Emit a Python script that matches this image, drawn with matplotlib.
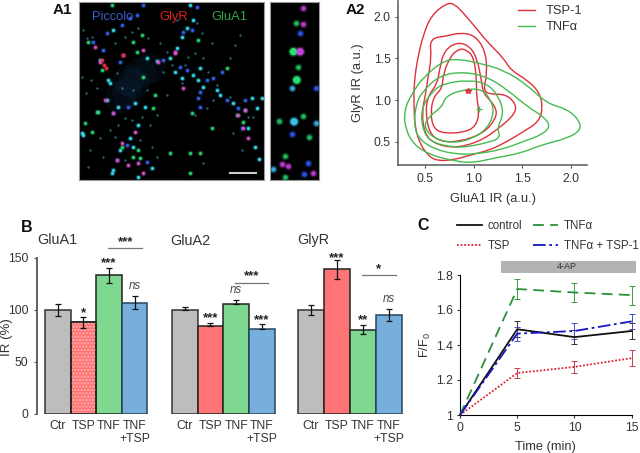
import matplotlib
matplotlib.use('Agg')
import matplotlib.pyplot as plt
from matplotlib.patches import Rectangle, PathPatch
from matplotlib.path import Path

plt.rcParams['font.family'] = ['Liberation Sans', 'DejaVu Sans']
plt.rcParams['mathtext.default'] = 'regular'

W, H = 640, 453

# A1 spots, in image coordinates
cyan_x = [570, 578, 560, 545, 530, 510, 470, 440, 340, 300, 325, 330, 600, 580, 595, 610, 545, 525, 650, 660, 700, 755, 785, 770, 745, 765, 778, 320, 355, 405, 435, 295, 415, 390, 360, 340, 400, 455, 415, 335, 250, 245, 735]
cyan_y = [15, 60, 85, 110, 145, 175, 182, 175, 90, 180, 240, 250, 205, 225, 240, 260, 235, 215, 270, 285, 310, 295, 295, 325, 385, 440, 478, 300, 320, 310, 320, 335, 375, 415, 450, 510, 440, 505, 530, 520, 405, 400, 330]
blue_x = [590, 575, 550, 490, 430, 410, 390, 365, 320, 280, 360, 620, 600, 595, 560, 540, 640, 680, 715, 735, 385, 340, 380, 440, 350, 725, 600, 310, 665]
blue_y = [22, 90, 95, 180, 15, 45, 55, 75, 100, 125, 185, 240, 275, 295, 210, 200, 235, 300, 325, 300, 320, 340, 435, 485, 480, 385, 320, 150, 215]
green_x = [400, 410, 305, 430, 465, 415, 400, 420, 365, 255, 275, 290, 575, 635, 510, 570, 600, 570, 425, 460, 265, 335, 595, 680, 710, 730]
green_y = [125, 155, 210, 230, 285, 450, 470, 475, 440, 370, 395, 335, 340, 385, 460, 460, 460, 520, 105, 325, 125, 15, 120, 205, 345, 365]
magenta_x = [300, 370, 525, 475, 550, 315, 340, 405, 415, 385, 350, 715, 735, 730, 745, 285, 430, 365, 525, 430]
magenta_y = [185, 165, 160, 185, 265, 300, 340, 395, 490, 495, 480, 345, 330, 385, 415, 140, 150, 430, 155, 520]
red_x = [305, 312, 318, 368]
red_y = [180, 195, 205, 165]
faint_x = [250, 262, 275, 245, 258, 272, 290, 345, 375, 395, 415, 445, 480, 500, 515, 555, 565, 585, 610, 625, 650, 690, 705, 720, 745, 760, 690, 640, 620, 585, 545, 500, 470, 450, 425, 375, 355, 330, 300, 270, 265, 310, 345, 375, 420, 395, 455, 470, 590, 605, 530, 635, 700, 725, 610, 400, 365, 350, 440, 490]
faint_y = [90, 115, 110, 230, 280, 240, 265, 130, 110, 95, 85, 115, 130, 155, 195, 195, 170, 160, 175, 215, 255, 175, 135, 105, 350, 350, 290, 300, 325, 345, 250, 285, 345, 375, 350, 355, 375, 390, 415, 450, 500, 470, 410, 480, 420, 360, 440, 470, 70, 100, 60, 130, 400, 450, 490, 270, 265, 220, 270, 215]

# A1 inset spots
inset_big_x = [880, 900, 890, 882]
inset_big_y = [155, 155, 240, 365]
inset_big_c = ['#25e070', '#c840d8', '#25e070', '#35c0e8']
inset_green_x = [928, 910, 895, 888, 855, 855, 838]
inset_green_y = [410, 348, 200, 68, 468, 530, 362]
inset_cyan_x = [875, 820, 948]
inset_cyan_y = [265, 508, 368]
inset_blue_x = [875, 923, 912, 900, 948]
inset_blue_y = [403, 488, 523, 100, 265]
inset_magenta_x = [845, 865, 938, 910, 910]
inset_magenta_y = [493, 498, 520, 25, 72]

# A2 contours
tsp_x = [
    [0.62, 0.53, 0.45, 0.40, 0.39, 0.39, 0.43, 0.49, 0.57, 0.73, 0.81, 0.90, 1.03, 1.14, 1.31, 1.38, 1.55, 1.67, 1.71, 1.67, 1.51, 1.34, 1.17, 0.97, 0.79, 0.62],
    [0.86, 1.01, 1.12, 1.14, 1.10, 1.16, 1.33, 1.43, 1.43, 1.26, 1.06, 0.80, 0.59, 0.50, 0.47, 0.51, 0.53, 0.57, 0.55, 0.73, 0.86],
    [0.84, 0.97, 1.04, 1.08, 1.10, 1.17, 1.24, 1.22, 1.10, 0.86, 0.66, 0.55, 0.51, 0.53, 0.63, 0.65, 0.70, 0.84],
    [0.86, 0.93, 1.00, 1.03, 1.03, 1.06, 1.02, 0.90, 0.69, 0.59, 0.56, 0.59, 0.68, 0.69, 0.77, 0.86],
]
tsp_y = [
    [0.27, 0.34, 0.48, 0.68, 0.92, 1.20, 1.52, 1.80, 2.02, 2.17, 2.15, 2.04, 1.86, 1.70, 1.50, 1.36, 1.24, 1.10, 0.92, 0.74, 0.62, 0.50, 0.40, 0.34, 0.28, 0.27],
    [1.81, 1.78, 1.60, 1.32, 1.12, 1.07, 1.07, 0.96, 0.84, 0.66, 0.50, 0.42, 0.48, 0.60, 0.84, 1.08, 1.24, 1.52, 1.74, 1.77, 1.81],
    [1.70, 1.64, 1.48, 1.24, 1.08, 1.00, 0.88, 0.76, 0.60, 0.50, 0.50, 0.60, 0.84, 1.04, 1.20, 1.36, 1.60, 1.70],
    [1.62, 1.60, 1.52, 1.28, 1.04, 0.84, 0.68, 0.61, 0.60, 0.66, 0.84, 1.04, 1.14, 1.32, 1.54, 1.62],
]
tnf_x = [
    [0.97, 0.76, 0.56, 0.39, 0.30, 0.29, 0.37, 0.49, 0.70, 0.87, 1.07, 1.31, 1.55, 1.75, 1.96, 2.08, 2.10, 1.96, 1.69, 1.48, 1.24, 0.97],
    [0.83, 0.62, 0.45, 0.39, 0.41, 0.49, 0.66, 0.90, 1.14, 1.35, 1.55, 1.72, 1.79, 1.69, 1.55, 1.28, 1.00, 0.83],
    [0.79, 0.55, 0.47, 0.47, 0.59, 0.70, 0.94, 1.14, 1.26, 1.31, 1.24, 1.28, 1.11, 0.94, 0.79],
    [0.71, 0.87, 1.08, 1.18, 1.21, 1.14, 1.00, 0.79, 0.59, 0.49, 0.54, 0.68, 0.71],
]
tnf_y = [
    [0.24, 0.28, 0.34, 0.46, 0.66, 0.88, 1.08, 1.28, 1.48, 1.49, 1.44, 1.36, 1.18, 0.96, 0.89, 0.76, 0.64, 0.54, 0.46, 0.36, 0.31, 0.24],
    [0.35, 0.40, 0.52, 0.68, 0.96, 1.12, 1.30, 1.34, 1.28, 1.12, 0.92, 0.80, 0.68, 0.58, 0.52, 0.40, 0.35, 0.35],
    [0.43, 0.50, 0.68, 0.92, 1.12, 1.20, 1.24, 1.20, 1.04, 0.84, 0.66, 0.54, 0.48, 0.44, 0.43],
    [1.04, 1.12, 1.14, 1.00, 0.84, 0.66, 0.54, 0.48, 0.54, 0.68, 0.80, 0.92, 1.04],
]
median_x = [0.94, 1.06]
median_y = [1.11, 0.89]

# B
bar_labels = ['Ctr', 'TSP', 'TNF', 'TNF\n+TSP']
glua1_vals = [100, 88, 133, 107]
glua1_err = [6, 5, 7, 6]
glua2_vals = [100, 84, 106, 82]
glua2_err = [3, 3, 3, 4]
glyr_vals = [100, 139, 81, 95]
glyr_err = [5, 9, 4.5, 5.5]

# C
time_min = [0, 5, 10, 15]
control = [1, 1.49, 1.445, 1.48]
control_err = [0, 0.045, 0.04, 0.045]
tsp = [1, 1.24, 1.275, 1.325]
tsp_err = [0, 0.03, 0.035, 0.045]
tnf = [1, 1.72, 1.70, 1.685]
tnf_err = [0, 0.055, 0.055, 0.055]
tnf_tsp = [1, 1.465, 1.48, 1.535]
tnf_tsp_err = [0, 0.04, 0.045, 0.045]

bar_colors = ['#BDBDBD', '#FF7474', '#7FD88F', '#76AFDC']
edge_colors = ['#333333', '#222222', '#222222', '#24465f']
TXT = '#333333'


def px_axes(left, top, right, bottom):
    return fig.add_axes([left / W, 1 - bottom / H, (right - left) / W, (bottom - top) / H])


def label(x, y, s, **kw):
    fig.text(x / W, 1 - y / H, s, **kw)


def closed_curve(ax, xs, ys, color):
    # quadratic curve with the read points as control points
    pts = list(zip(xs[:-1], ys[:-1]))
    n = len(pts)
    mids = [((pts[i][0] + pts[(i + 1) % n][0]) / 2, (pts[i][1] + pts[(i + 1) % n][1]) / 2) for i in range(n)]
    verts = [mids[-1]]
    codes = [Path.MOVETO]
    for i in range(n):
        verts += [pts[i], mids[i]]
        codes += [Path.CURVE3, Path.CURVE3]
    ax.add_patch(PathPatch(Path(verts, codes), fill=False, edgecolor=color, lw=1.0))


fig = plt.figure(figsize=(6.4, 4.53), dpi=100)

# A1 micrograph
ax = px_axes(79.3, 1.7, 263.5, 180)
ax.set_facecolor('black')
ax.set_xlim(238, 790)
ax.set_ylim(540, 5)
ax.scatter([385, 420, 450, 380, 400, 360], [240, 215, 205, 280, 250, 290], s=500, color='#12304a', alpha=0.16, linewidths=0)
ax.scatter(faint_x, faint_y, s=3, color='#2f7f95', alpha=0.8, linewidths=0)
for xs, ys, c in [(cyan_x, cyan_y, '#35d5e5'), (blue_x, blue_y, '#3060e8'), (green_x, green_y, '#25d070'),
                  (magenta_x, magenta_y, '#d850c8'), (red_x, red_y, '#e83040')]:
    ax.scatter(xs, ys, s=16, color=c, alpha=0.3, linewidths=0)
    ax.scatter(xs, ys, s=5, color=c, linewidths=0)
ax.plot([690, 768], [518, 518], color='#cccccc', lw=1.5)
ax.text(275, 60, 'Piccolo', color='#3c5cc8', fontsize=9.3)
ax.text(478, 60, 'GlyR', color='#e02020', fontsize=9.3)
ax.text(635, 60, 'GluA1', color='#35a845', fontsize=9.3)
ax.set_xticks([])
ax.set_yticks([])
for s in ax.spines.values():
    s.set_color('#999999')

# A1 inset
ax = px_axes(270, 1.7, 318.5, 180)
ax.set_facecolor('black')
ax.set_xlim(810, 955)
ax.set_ylim(540, 5)
for xs, ys, c in [(inset_green_x, inset_green_y, '#1fb85c'), (inset_cyan_x, inset_cyan_y, '#35a8d8'),
                  (inset_blue_x, inset_blue_y, '#2a50e0'), (inset_magenta_x, inset_magenta_y, '#b838c8')]:
    ax.scatter(xs, ys, s=32, color=c, alpha=0.3, linewidths=0)
    ax.scatter(xs, ys, s=11, color=c, linewidths=0)
ax.scatter(inset_big_x, inset_big_y, s=55, color=inset_big_c, alpha=0.3, linewidths=0)
ax.scatter(inset_big_x, inset_big_y, s=28, color=inset_big_c, linewidths=0)
ax.set_xticks([])
ax.set_yticks([])
for s in ax.spines.values():
    s.set_color('#999999')

# A2 contours
ax = px_axes(398.3, 1, 587.3, 165)
ax.set_xlim(0.23, 2.164)
ax.set_ylim(0.22, 2.19)
for i in range(4):
    closed_curve(ax, tsp_x[i], tsp_y[i], '#e0303a')
for i in range(4):
    closed_curve(ax, tnf_x[i], tnf_y[i], '#45bb50')
ax.plot([], [], color='#e0303a', lw=1.0, label='TSP-1')
ax.plot([], [], color='#45bb50', lw=1.0, label='TNFα')
ax.plot(median_x[0], median_y[0], '*', color='#e0303a', ms=4)
ax.plot(median_x[1], median_y[1], '+', color='#45bb50', ms=5)
ax.set_xticks([0.5, 1.0, 1.5, 2.0])
ax.set_yticks([0.5, 1.0, 1.5, 2.0])
ax.set_xlabel('GluA1 IR (a.u.)', fontsize=9.3, color=TXT, labelpad=6)
ax.set_ylabel('GlyR IR (a.u.)', fontsize=9.3, color=TXT, labelpad=7)
ax.tick_params(labelsize=8.8, length=2.5, color='#555555', labelcolor=TXT, pad=3)
ax.spines[['top', 'right']].set_visible(False)
ax.spines[['left', 'bottom']].set_color('#666666')
ax.spines[['left', 'bottom']].set_linewidth(1.2)
ax.legend(loc='upper left', bbox_to_anchor=(0.573, 1.045), frameon=False, fontsize=9.3, handlelength=1.3,
          labelspacing=0.3, handletextpad=0.8, labelcolor=TXT)
ax.patch.set_alpha(0)

# B bars
panels = [
    (36.7, 160, 45.0, 25.6, glua1_vals, glua1_err, 'GluA1', True),
    (165, 285, 171.7, 25.8, glua2_vals, glua2_err, 'GluA2', False),
    (290, 410, 297.7, 26.1, glyr_vals, glyr_err, 'GlyR', False),
]
axes_b = []
for left, right, bar0, bw, vals, errs, title, has_axis in panels:
    ax = px_axes(left, 257.7, right, 414)
    ax.set_xlim((left - bar0) / bw - 0.5, (right - bar0) / bw - 0.5)
    ax.set_ylim(0, 150)
    pos = range(4)
    ax.bar(pos, vals, width=1, color=bar_colors, edgecolor=edge_colors, linewidth=1.1, zorder=2)
    if title == 'GluA1':
        ax.bar(1, vals[1], width=1, facecolor='none', edgecolor='#ffb4b4', hatch='.....', linewidth=0, zorder=3)
        ax.bar(1, vals[1], width=1, facecolor='none', edgecolor=edge_colors[1], linewidth=1.1, zorder=3)
    lower = [0] * 4 if title == 'GluA2' else errs
    ax.errorbar(pos, vals, yerr=[lower, errs], fmt='none', ecolor='#111111', elinewidth=0.9, capsize=2.5,
                capthick=0.9, zorder=4, clip_on=False)
    ax.set_xticks(list(pos))
    ax.set_xticklabels(bar_labels, fontsize=8.8, color=TXT, linespacing=1.2)
    ax.tick_params(axis='x', length=0, pad=4)
    ax.spines[['top', 'right', 'bottom']].set_visible(False)
    if has_axis:
        ax.set_yticks([0, 50, 100, 150])
        ax.tick_params(axis='y', labelsize=8.8, labelcolor=TXT, length=2, color='#555555', pad=4)
        ax.spines['left'].set_color('#555555')
        ax.spines['left'].set_linewidth(1.3)
        ax.set_ylabel('IR (%)', fontsize=9.5, color=TXT, labelpad=0)
        ax.yaxis.set_label_coords(-0.195, 0.49)
    else:
        ax.set_yticks([])
        ax.spines['left'].set_visible(False)
    ax.patch.set_alpha(0)
    axes_b.append(ax)


def star(ax, x, y, s):
    ax.text(x, y, s, ha='center', va='center', fontsize=9.5, fontweight='bold', color='#222222', clip_on=False)


def ns(ax, x, y):
    ax.text(x, y, 'ns', ha='center', va='center', fontsize=8.3, style='italic', color='#444444', clip_on=False)


def sig(ax, x0, x1, y, s):
    ax.plot([x0, x1], [y, y], color='#777777', lw=0.9, clip_on=False)
    star(ax, (x0 + x1) / 2, y + 6, s)


a = axes_b[0]
star(a, 1, 97, '*')
star(a, 2, 145, '***')
ns(a, 3, 123)
sig(a, 1.98, 3.28, 159, '***')
a = axes_b[1]
star(a, 1, 92, '***')
ns(a, 2, 119)
star(a, 3, 90, '***')
sig(a, 1.95, 3.25, 126, '***')
a = axes_b[2]
star(a, 1, 150, '***')
star(a, 2, 90, '**')
ns(a, 3, 110)
sig(a, 1.97, 3.25, 133, '*')

label(37, 240, 'GluA1', fontsize=10.4, color=TXT, va='center')
label(170, 241, 'GluA2', fontsize=10.4, color=TXT, va='center')
label(297, 240, 'GlyR', fontsize=10.4, color=TXT, va='center')

# C time course
ax = px_axes(460, 275, 631.7, 415)
ax.set_xlim(0, 15)
ax.set_ylim(1, 1.8)
series = [
    (control, control_err, '#111111', '-', 'control', '#333333'),
    (tsp, tsp_err, '#e02030', (0, (1, 1)), 'TSP', '#c04050'),
    (tnf, tnf_err, '#2a8f3a', (0, (6, 3.5)), 'TNFα', '#3a9a48'),
    (tnf_tsp, tnf_tsp_err, '#1515c8', (0, (7, 2, 1.5, 2)), 'TNFα + TSP-1', '#4050c8'),
]
for vals, errs, c, ls, name, ec in series:
    ax.plot(time_min, vals, color=c, ls=ls, lw=1.3, label=name, clip_on=False, zorder=3)
    ax.errorbar(time_min[1:], vals[1:], yerr=errs[1:], fmt='none', ecolor=ec, elinewidth=0.7, capsize=2.5,
                capthick=0.7, clip_on=False, zorder=2)
ax.add_patch(Rectangle((3.6, 1.813), 11.8, 0.067, facecolor='#b3b3b3', edgecolor='none', clip_on=False))
ax.text(9.3, 1.846, '4-AP', ha='center', va='center', fontsize=6.5, color=TXT, clip_on=False)
ax.set_xticks([0, 5, 10, 15])
ax.set_yticks([1, 1.2, 1.4, 1.6, 1.8])
ax.set_yticklabels(['1', '1.2', '1.4', '1.6', '1.8'])
ax.tick_params(labelsize=8.8, labelcolor=TXT, length=2, color='#333333', pad=3)
ax.set_xlabel('Time (min)', fontsize=9.3, color=TXT, labelpad=5)
ax.set_ylabel('F/F$_0$', fontsize=9.3, color=TXT)
ax.yaxis.set_label_coords(-0.155, 0.5)
ax.spines[['top', 'right']].set_visible(False)
ax.legend(loc='lower left', bbox_to_anchor=(-0.02, 1.165), ncol=2, frameon=False, fontsize=8.3, handlelength=2.2,
          handletextpad=0.5, columnspacing=0.9, labelspacing=0.65, labelcolor=TXT, borderpad=0, borderaxespad=0)

# panel letters
label(53, 10, 'A1', fontsize=11, fontweight='bold', va='center', color='#111111')
label(346, 10, 'A2', fontsize=11, fontweight='bold', va='center', color='#111111')
label(21, 227, 'B', fontsize=11.5, fontweight='bold', va='center', color='#111111')
label(417, 226, 'C', fontsize=11.5, fontweight='bold', va='center', color='#111111')

plt.savefig('out.png', dpi=100)
